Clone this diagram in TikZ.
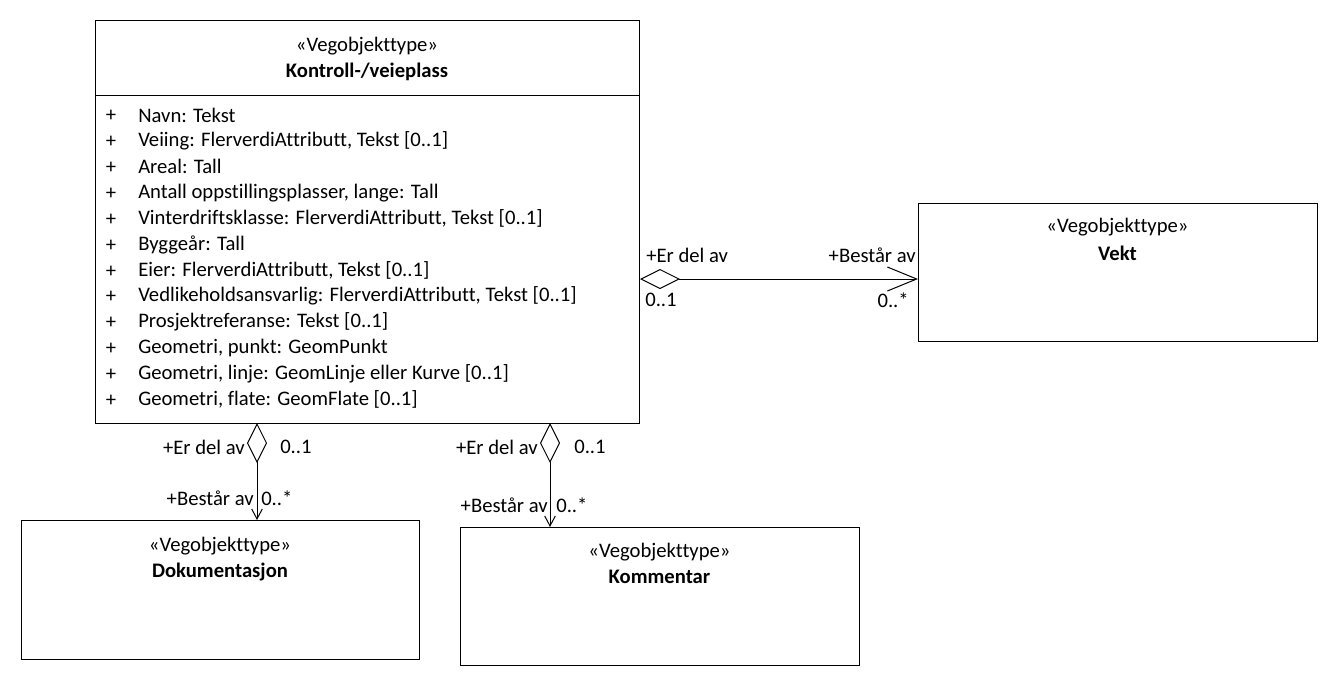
\documentclass[tikz,border=0pt]{standalone}
\usepackage{fontspec}
\setmainfont[Ligatures={NoCommon}]{Carlito}
\usetikzlibrary{arrows.meta}
\begin{document}
\begin{tikzpicture}[x=0.75pt,y=-0.75pt,
  every node/.style={font=\fontsize{15.5pt}{18pt}\selectfont, inner sep=0pt},
  box/.style={draw, line width=0.75pt, anchor=north west, inner sep=0pt},
  attr/.style={anchor=west},
  lbl/.style={anchor=center},
  assoc/.style={line width=0.75pt, {Diamond[open,length=30pt,width=15pt]}-{Straight Barb[length=22pt,width=18pt,line width=0.75pt]}},
  vassoc/.style={line width=0.75pt, {Diamond[open,length=30pt,width=15pt]}-{Straight Barb[length=7.5pt,width=8pt,line width=0.75pt]}}]
\useasboundingbox (0,0) rectangle (1338,686);
\fill[white] (0,0) rectangle (1338,686);
% main class
\node[box, minimum width=408pt, minimum height=302.25pt] (main) at (95,20) {};
\draw[line width=0.75pt] (95,95) -- (639,95);
\node[lbl] (mst) at (367,46) {«Vegobjekttype»};
\node[lbl] (mnm) at (367,72) {\bfseries Kontroll-/veieplass};
\foreach \t [count=\i] in {Navn: Tekst,
  Veiing: FlerverdiAttributt{,} Tekst [0..1],
  Areal: Tall,
  Antall oppstillingsplasser{,} lange: Tall,
  Vinterdriftsklasse: FlerverdiAttributt{,} Tekst [0..1],
  Byggeår: Tall,
  Eier: FlerverdiAttributt{,} Tekst [0..1],
  Vedlikeholdsansvarlig: FlerverdiAttributt{,} Tekst [0..1],
  Prosjektreferanse: Tekst [0..1],
  Geometri{,} punkt: GeomPunkt,
  Geometri{,} linje: GeomLinje eller Kurve [0..1],
  Geometri{,} flate: GeomFlate [0..1]} {
  \node[lbl] (p\i) at (111,{116+(\i-1)*25.9}) {+};
  \node[attr] (a\i) at (138,{115+(\i-1)*25.9}) {\t};
}
% Vekt
\node[box, minimum width=299.25pt, minimum height=103.5pt] (vekt) at (918,203) {};
\node[lbl] (vst) at (1117.5,227) {«Vegobjekttype»};
\node[lbl] (vnm) at (1117.5,253) {\bfseries Vekt};
% Dokumentasjon
\node[box, minimum width=298.5pt, minimum height=104.25pt] (dok) at (21,520) {};
\node[lbl] (dst) at (220,546) {«Vegobjekttype»};
\node[lbl] (dnm) at (220,572) {\bfseries Dokumentasjon};
% Kommentar
\node[box, minimum width=299.25pt, minimum height=103.5pt] (kom) at (460,527) {};
\node[lbl] (kst) at (659.5,552) {«Vegobjekttype»};
\node[lbl] (knm) at (659.5,577) {\bfseries Kommentar};
% connector end points
\coordinate (h1) at (main.east |- 0,279);
\coordinate (h2) at (vekt.west |- 0,279);
\coordinate (v1a) at (257,423);
\coordinate (v1b) at (257,520);
\coordinate (v2a) at (550,423);
\coordinate (v2b) at (550,527);
\draw[assoc] (h1) -- (h2);
\draw[vassoc] (v1a) -- (v1b);
\draw[vassoc] (v2a) -- (v2b);
% labels
\node[anchor=west] (h1r) at (646,255) {+Er del av};
\node[anchor=west] (h1m) at (645,300) {0..1};
\node[anchor=east] (h2r) at (916,255) {+Består av};
\node[anchor=east] (h2m) at (909,300) {0..*};
\node[anchor=east] (v1r) at (245,447) {+Er del av};
\node[anchor=west] (v1m) at (280,447) {0..1};
\node[anchor=east] (v1s) at (254,498) {+Består av};
\node[anchor=west] (v1n) at (261,498) {0..*};
\node[anchor=east] (v2r) at (538,447) {+Er del av};
\node[anchor=west] (v2m) at (574,447) {0..1};
\node[anchor=east] (v2s) at (548,505) {+Består av};
\node[anchor=west] (v2n) at (556,505) {0..*};
\end{tikzpicture}
\end{document}
